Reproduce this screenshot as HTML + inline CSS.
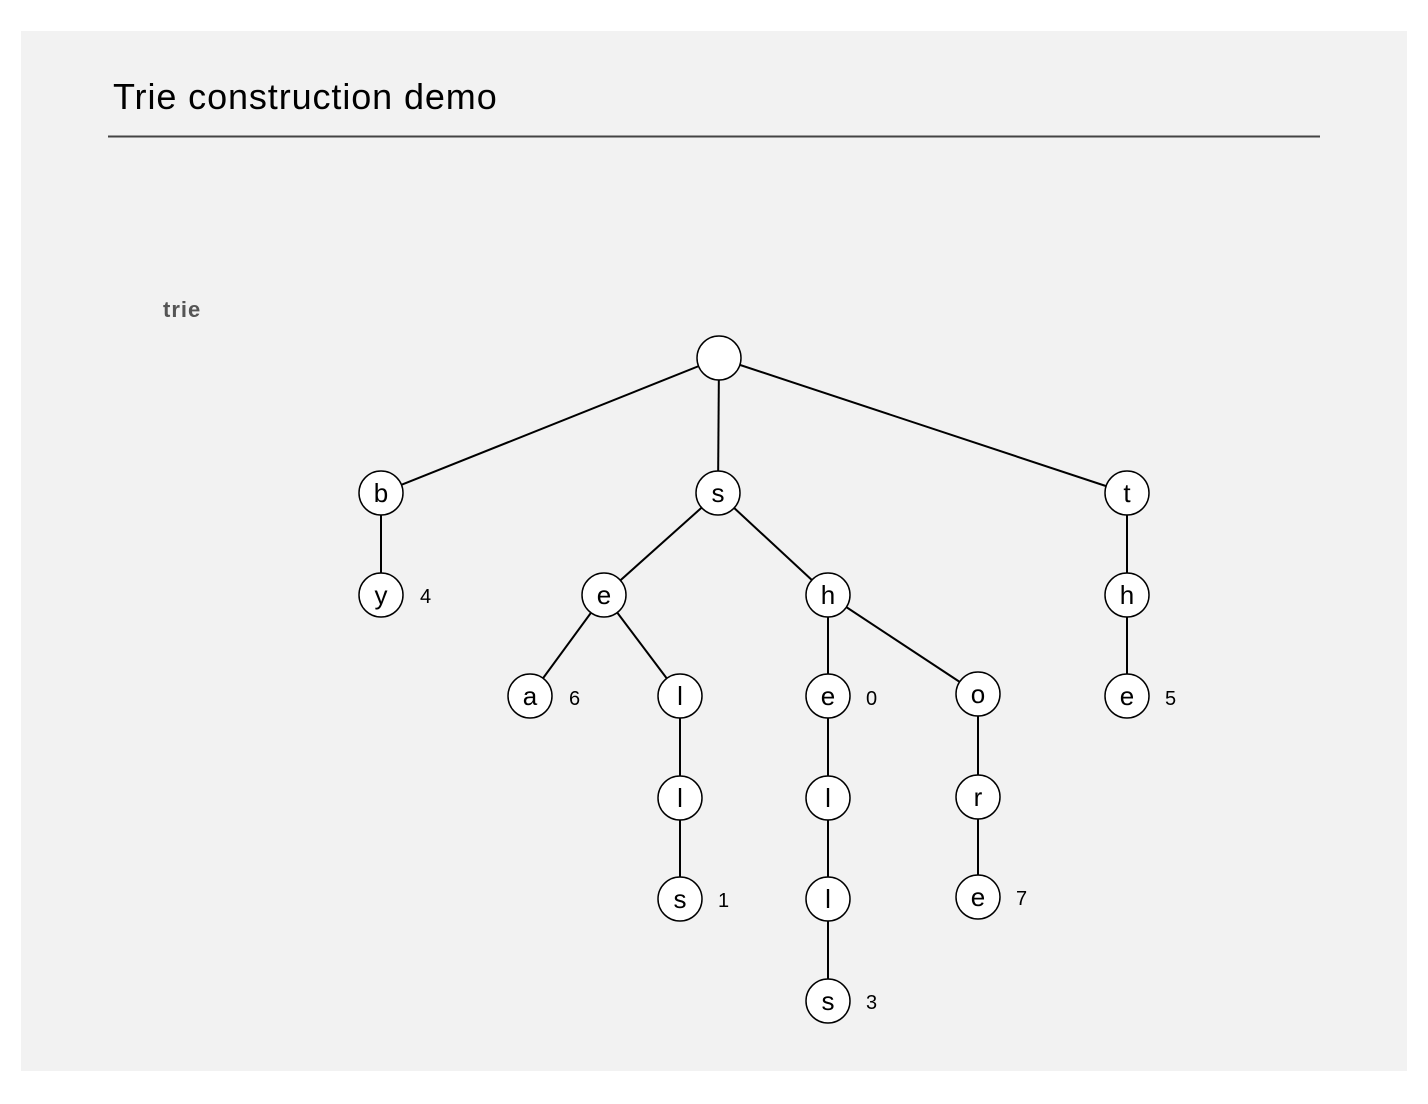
<!DOCTYPE html>
<html><head><meta charset="utf-8"><style>
html,body{margin:0;padding:0;background:#fff;width:1428px;height:1104px;overflow:hidden}
</style></head><body>
<svg width="1428" height="1104" xmlns="http://www.w3.org/2000/svg" font-family="Liberation Sans, sans-serif">
<rect x="21" y="31" width="1386" height="1040" fill="#f2f2f2"/>
<text x="113" y="109" font-size="36" letter-spacing="0.9" fill="#000">Trie construction demo</text>
<line x1="108" y1="136.5" x2="1320" y2="136.5" stroke="#444" stroke-width="2"/>
<text x="163" y="317" font-size="22" font-weight="bold" letter-spacing="1" fill="#555">trie</text>
<g stroke="#000" stroke-width="2">
<line x1="719" y1="358" x2="381" y2="493"/>
<line x1="719" y1="358" x2="718" y2="493"/>
<line x1="719" y1="358" x2="1127" y2="493"/>
<line x1="381" y1="493" x2="381" y2="595"/>
<line x1="718" y1="493" x2="604" y2="595"/>
<line x1="718" y1="493" x2="828" y2="595"/>
<line x1="1127" y1="493" x2="1127" y2="696"/>
<line x1="604" y1="595" x2="530" y2="696"/>
<line x1="604" y1="595" x2="680" y2="696"/>
<line x1="680" y1="696" x2="680" y2="899"/>
<line x1="828" y1="595" x2="828" y2="1001"/>
<line x1="828" y1="595" x2="978" y2="694"/>
<line x1="978" y1="694" x2="978" y2="897"/>
</g>
<g stroke="#000" stroke-width="1.5" fill="#fff">
<circle cx="719" cy="358" r="22"/>
<circle cx="381" cy="493" r="22"/><circle cx="718" cy="493" r="22"/><circle cx="1127" cy="493" r="22"/>
<circle cx="381" cy="595" r="22"/><circle cx="604" cy="595" r="22"/><circle cx="828" cy="595" r="22"/><circle cx="1127" cy="595" r="22"/>
<circle cx="530" cy="696" r="22"/><circle cx="680" cy="696" r="22"/><circle cx="828" cy="696" r="22"/><circle cx="978" cy="694" r="22"/><circle cx="1127" cy="696" r="22"/>
<circle cx="680" cy="798" r="22"/><circle cx="828" cy="798" r="22"/><circle cx="978" cy="797" r="22"/>
<circle cx="680" cy="899" r="22"/><circle cx="828" cy="899" r="22"/><circle cx="978" cy="897" r="22"/>
<circle cx="828" cy="1001" r="22"/>
</g>
<g font-size="26" text-anchor="middle" fill="#000">
<text x="381" y="502">b</text><text x="718" y="502">s</text><text x="1127" y="502">t</text>
<text x="381" y="604">y</text><text x="604" y="604">e</text><text x="828" y="604">h</text><text x="1127" y="604">h</text>
<text x="530" y="705">a</text><text x="680" y="705">l</text><text x="828" y="705">e</text><text x="978" y="703">o</text><text x="1127" y="705">e</text>
<text x="680" y="807">l</text><text x="828" y="807">l</text><text x="978" y="806">r</text>
<text x="680" y="908">s</text><text x="828" y="908">l</text><text x="978" y="906">e</text>
<text x="828" y="1010">s</text>
</g>
<g font-size="20" fill="#000">
<text x="420" y="603">4</text><text x="569" y="705">6</text><text x="866" y="705">0</text><text x="1165" y="705">5</text>
<text x="718" y="907">1</text><text x="1016" y="905">7</text><text x="866" y="1009">3</text>
</g>
</svg>
</body></html>
